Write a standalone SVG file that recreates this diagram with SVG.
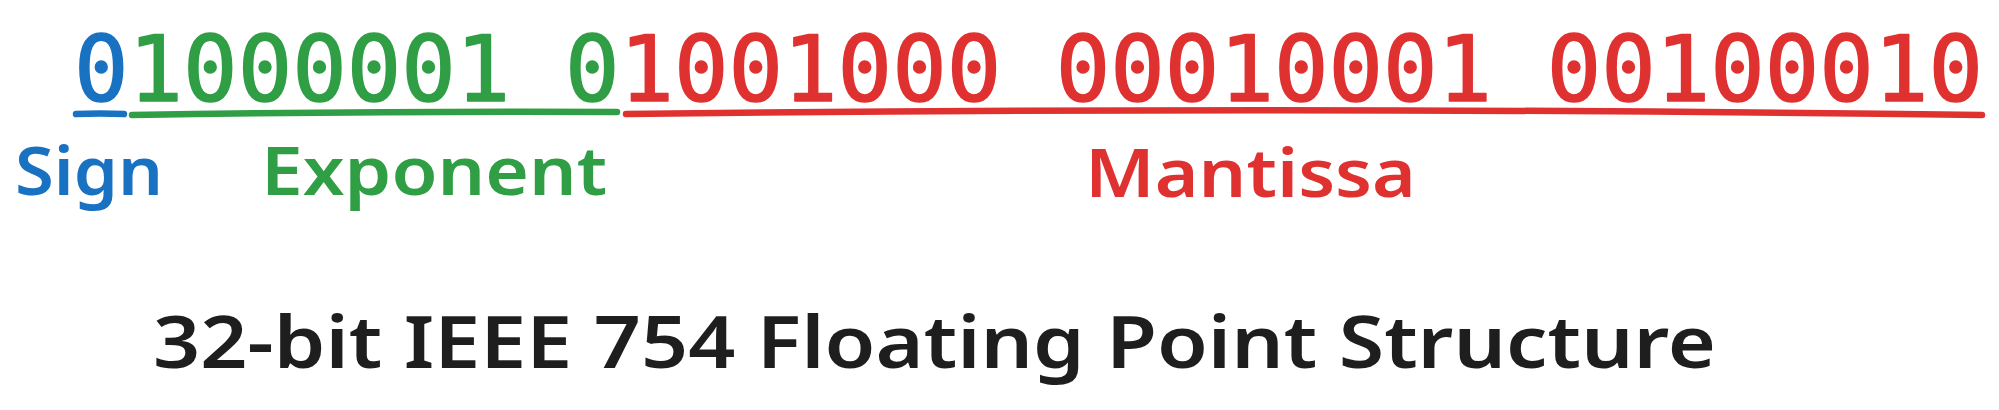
<svg xmlns="http://www.w3.org/2000/svg" width="1999" height="410" viewBox="0 0 1999 410">
<style>
.bits{font-family:"DejaVu Sans Mono","Liberation Mono",monospace;font-size:90.6px;stroke-width:1.5;stroke-linejoin:round}
.hand{font-family:"Noto Sans","Liberation Sans",sans-serif;font-weight:600}
.ul{fill:none;stroke-width:6.5;stroke-linecap:round}
.blue{fill:#1971c2;stroke:#1971c2}.green{fill:#2f9e44;stroke:#2f9e44}.red{fill:#e03131;stroke:#e03131}
.lbl{stroke:none}
</style>
<rect width="1999" height="410" fill="#ffffff"/>
<g id="bits">
<text class="bits" x="74" y="101" xml:space="preserve"><tspan class="blue">0</tspan><tspan class="green">1000001 0</tspan><tspan class="red">1001000 00010001 00100010</tspan></text>
</g>
<g id="connectors">
<path class="ul" stroke="#1971c2" d="M76 114 Q100 113 124 114"/>
<path class="ul" stroke="#2f9e44" d="M132 115 Q380 111 617 112"/>
<path class="ul" stroke="#e03131" d="M626 114 Q1300 106 1982 115"/>
</g>
<g id="label-sign"><text class="hand blue lbl" x="15" y="195" font-size="66" textLength="148" lengthAdjust="spacingAndGlyphs">Sign</text></g>
<g id="label-exponent"><text class="hand green lbl" x="261" y="195" font-size="66" textLength="346" lengthAdjust="spacingAndGlyphs">Exponent</text></g>
<g id="label-mantissa"><text class="hand red lbl" x="1085" y="197" font-size="66" textLength="331" lengthAdjust="spacingAndGlyphs">Mantissa</text></g>
<g id="title"><text class="hand" fill="#1e1e1e" x="153" y="368" font-size="72" textLength="1563" lengthAdjust="spacingAndGlyphs">32-bit IEEE 754 Floating Point Structure</text></g>
</svg>
